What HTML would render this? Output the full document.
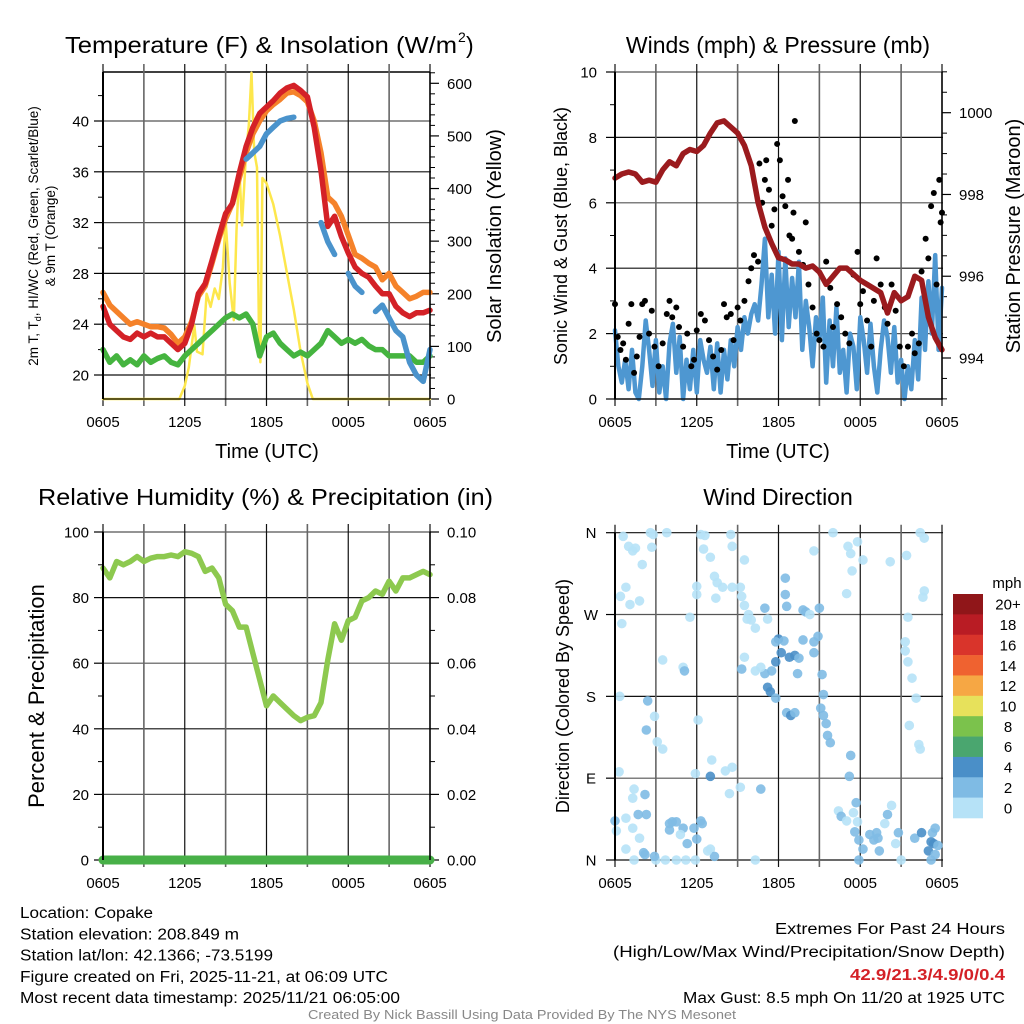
<!DOCTYPE html>
<html><head><meta charset="utf-8"><style>
html,body{margin:0;padding:0;background:#fff;}
svg{display:block;font-family:"Liberation Sans",sans-serif;}
</style></head><body>
<svg id="c" width="1024" height="1024" viewBox="0 0 1024 1024"></svg>
<script>
// ---------- DATA ----------
const xTickLabels = ["0605","1205","1805","0005","0605"];
// temperature panel (half-hour steps from 0605)
const temp2m = [25.4,24,23.5,23,22.8,23.3,23,23.3,23,23,22.5,22,22.5,24,26.4,27.2,29,30.9,32.7,33.5,35.9,38,39.5,40.6,41.1,41.6,42.2,42.6,42.8,42.4,41.9,39.5,36.1,31.7,32.5,30.9,29.6,28.5,28,27.7,27,26.4,26.4,25.4,24.9,24.6,24.9,24.9,25.1];
const temp9m = [26.5,25.5,25,24.5,24,24.2,24,23.8,23.8,23.7,23.2,22.5,23,24.2,26.2,27,28.8,30.7,32.3,33.5,35.5,37.5,39,40,40.8,41.3,41.7,42.2,42.3,42,41.5,40,37.5,34,33.5,32.5,31,29.5,29.2,28.8,28.5,27.5,28,27,26.5,26,26.2,26.5,26.5];
const dewPt = [22,21,21.5,20.8,21.2,20.8,21.5,21,21.3,21.5,21,20.8,21.5,22,22.5,23,23.5,24,24.5,24.8,24.5,24.8,24,21.5,23,23.3,22.5,22,21.5,21.8,21.5,22,22.5,23.5,23,22.5,22.8,22.5,22.8,22.3,22,22,21.5,21.5,21.5,21.5,21,21,21.5];
const heatWC = [null,null,null,null,null,20.3,null,null,20.5,null,null,null,null,null,null,null,null,null,null,null,null,37,37.5,38,39,39.5,40,40.2,40.3,null,null,null,32,30.5,29.5,null,28,27,26.5,null,25,25.5,24.5,23.5,23,21,20,19.5,22];
const solarTime = [0,5.6,6,6.3,6.7,6.9,7.3,7.6,7.9,8.2,8.5,8.8,9,9.3,9.6,9.8,10,10.2,10.5,10.7,10.9,11.1,11.3,11.45,11.55,11.7,12,12.5,13,13.5,14,14.5,15,15.4,24];
const solarVal = [0,0,25,60,140,90,85,200,175,210,190,250,340,220,150,320,440,330,470,520,620,470,440,120,70,420,410,370,310,240,170,90,30,0,0];
// winds panel
const windSonic = [2.1,1.0,0.5,1.2,0.3,1.5,0.2,0.0,1.0,2.4,1.5,0.4,1.8,0.2,1.0,0.0,1.7,2.3,0.8,1.9,0.0,1.2,0.3,1.5,0.2,
1.8,1.2,0.8,1.6,0.3,1.7,0.2,1.5,0.6,1.8,1.0,2.2,1.5,2.5,2.0,2.6,2.9,2.4,3.5,4.9,2.5,3.8,2.0,4.5,
1.8,4.3,2.2,3.7,2.5,4.2,1.5,3.0,2.2,1.0,2.5,1.8,3.1,0.5,2.4,1.0,2.8,0.8,1.5,0.2,2.0,1.6,0.3,2.5,
1.8,0.8,2.3,1.0,0.2,1.5,2.4,1.9,0.8,2.2,0.5,1.2,0.0,1.0,0.3,1.8,0.6,3.1,1.5,3.6,2.0,4.4,1.5,3.4];
const gustTime = [0,0.2,0.4,0.6,0.8,1.0,1.2,1.4,1.6,1.8,2.0,2.2,2.5,2.7,2.9,3.2,3.5,3.8,4.0,4.2,4.5,4.7,5.0,5.3,5.6,5.8,6.0,6.3,6.6,6.9,7.2,7.5,7.8,8.0,8.2,8.5,8.7,9.0,9.2,9.5,9.8,10.0,10.2,10.5,10.6,10.8,11.0,11.1,11.3,11.5,11.7,11.9,12.1,12.3,12.5,12.7,12.8,13.0,13.1,13.2,13.5,13.8,14.0,14.2,14.5,14.8,15.0,15.3,15.5,15.8,16.0,16.3,16.6,16.9,17.2,17.5,17.8,18.0,18.2,18.5,18.8,19.0,19.2,19.5,19.8,20.0,20.3,20.6,20.9,21.2,21.5,21.8,22.0,22.3,22.5,22.8,23.0,23.2,23.4,23.6,23.8,23.9,24];
const gustVal = [2.9,1.9,1.5,1.7,1.2,2.3,2.9,0.8,1.3,1.9,2.9,3.0,2.0,2.7,1.6,1.0,1.7,2.6,3.0,2.5,2.8,2.2,1.6,2.0,1.0,1.2,2.1,2.6,2.4,1.8,1.3,0.9,1.5,2.9,2.5,2.6,1.8,2.8,2.4,3.0,3.6,4.0,4.4,4.2,7.2,6.0,6.7,7.3,6.4,5.3,5.8,7.8,7.3,6.2,5.9,6.7,5.0,4.9,5.7,8.5,4.5,4.1,5.4,3.5,2.8,2.0,1.8,1.6,4.2,3.4,2.2,2.9,2.5,2.0,1.7,3.8,4.5,2.9,3.3,2.4,1.6,3.0,4.3,3.5,2.8,2.3,3.5,2.7,1.6,1.0,1.6,2.0,1.4,1.7,3.9,4.9,4.3,5.9,6.3,3.5,6.7,5.4,5.7];
const pressure = [998.4,998.5,998.55,998.5,998.3,998.35,998.3,998.6,998.8,998.7,999.0,999.1,999.05,999.2,999.5,999.75,999.8,999.65,999.5,999.2,998.7,997.8,997.2,996.8,996.45,996.4,996.3,996.3,996.2,996.25,996.1,995.8,996.0,996.2,996.2,996.05,995.9,995.8,995.7,995.6,995.1,995.6,995.4,995.5,996.0,995.9,995.0,994.5,994.2];
// humidity panel
const relHum = [89,86,91,90,91,92.5,91,92,92.5,92.5,93,92.5,94,93.5,92.5,88,89,86,78,76,71,71,63,55,47,50,48,46,44,42.5,43.5,44,48,61,72,67,73,74,79,80,82,81,85,82,86,86,87,88,87];
const precip = [0,0,0,0,0,0,0,0,0,0,0,0,0,0,0,0,0,0,0,0,0,0,0,0,0,0,0,0,0,0,0,0,0,0,0,0,0,0,0,0,0,0,0,0,0,0,0,0,0];
// wind direction: [hours since 0605, degrees, speed mph]
const dirObs = [[0.6,356,1],[1.0,345,1],[1.5,343,1],[1.3,340,1],[2.0,325,1],[2.7,344,1],[2.6,360,1.5],[2.8,358,1],[3.8,360,1],[6.3,358,1],[6.6,357,1],[6.5,342,1],[7.0,333,1],[8.5,358,1],[8.6,345,1],[9.5,330,1],[9.2,300,1],[7.3,312,1],[7.5,305,1],[6.0,301,1],[6.0,292,1],[7.9,300,1],[7.4,288,1],[8.6,300,1],[9.3,290,1],[9.5,280,1],[9.8,270,1],[9.7,265,1],[10.0,264,1],[10.3,255,1],[11.2,265,1],[5.5,267,1],[0.4,290,1],[0.5,260,1],[0.8,300,1],[1.8,285,1],[1.1,281,1],[14.6,340,1],[16.0,360,1],[17.1,345,1],[17.3,337,1],[17.8,350,1],[18.2,330,1],[17.4,318,1],[17.0,293,1],[20.2,328,1],[21.4,335,1],[22.4,360,1],[22.7,354,1],[22.7,296,1],[22.6,289,1],[21.5,267,1],[21.3,240,1],[21.3,230,1],[21.5,218,1],[21.8,200,1],[22.1,178,1],[21.6,148,1],[22.3,127,1],[22.4,122,1],
[12.5,310,3],[12.5,292,3],[12.6,279,3.5],[11.0,277,3],[13.8,275,2.5],[14.0,273,3],[14.3,270,1.5],[15.0,277,3],[12.0,243,4.5],[12.2,228,4],[11.8,240,3],[11.5,208,3],[11.0,205,2],[11.8,218,4],[12.4,241,3],[13.2,225,4.5],[13.5,222,2],[12.8,223,4],[13.4,205,3.5],[13.8,242,3],[14.6,240,2.5],[14.9,246,3],[14.6,228,2.5],[15.2,204,3],[15.3,182,3],[15.1,167,2.5],[15.3,159,2.5],[15.5,150,3],[15.6,137,3],[15.8,129,3],[17.3,115,3],[11.2,190,4.5],[11.4,185,4],[11.8,178,3],[12.6,162,3],[12.9,159,4.5],[13.2,162,3],[10.7,212,1],[10.3,208,1],[9.5,223,1],[9.3,210,3],[5.0,212,1],[5.1,208,3],[3.5,220,1],[0.35,180,1],[2.4,175,3],[2.3,143,3],[2.9,158,1],[3.1,130,1],[3.5,122,1],[6.1,154,1],[5.9,95,1],[7.0,92,4],[7.1,110,1],[8.4,73,1],[9.2,80,1],[10.7,78,3],[8.6,102,1],[8.1,98,1],[0.3,97,1],[1.4,78,1],[1.3,68,1],[2.2,72,3],[2.3,50,3],[1.7,50,3],[0.0,43,3],[0.1,32,1],[0.8,46,1],[1.3,35,1],[0.8,12,1],[2.1,8,3],[2.2,6,3],[1.8,24,1],[3.7,0,1],[3.0,0,1],[4.0,40,3],[4.2,42,3],[4.0,33,3],[4.5,42,3],[5.0,35,3],[4.8,28,1],[5.3,18,3],[5.8,35,3],[6.3,43,3],[6.4,40,3],[6.0,23,3],[7.0,12,1],[7.3,4,3],[6.8,10,1],[5.9,0,1],[5.2,0,1],[4.5,0,1],[17.7,63,3],[17.2,92,3],[16.4,54,1],[16.6,48,3],[17.0,43,1],[17.5,52,1],[17.8,42,1],[17.6,31,3],[17.9,22,3],[18.2,12,3],[18.7,28,3],[19.0,22,3],[19.3,24,3],[19.4,10,3],[19.2,30,3],[19.8,40,1],[20.3,60,1],[20.0,50,3],[20.8,30,3],[20.6,18,1],[21.0,0,1],[22.0,24,3],[22.5,30,4],[23.2,20,4],[23.4,18,4],[23.3,30,3],[23.5,35,3],[23.7,16,3],[23.0,10,4],[23.2,0,3],[23.5,6,3],[17.9,0,3],[10.3,0,1],[2.9,4,3],[1.4,0,1]];
const cbLabels = ["20+","18","16","14","12","10","8","6","4","2","0"];
const cbColors = ["#901619","#b91c24","#d9342b","#ef6230","#f6a744","#e7e15b","#7bc24c","#4aa66f","#4a8fc8","#7fbbe4","#b6e2f7"];

// ---------- DRAW ----------
const NS="http://www.w3.org/2000/svg";
const svg=document.getElementById('c');
function mk(tag,attrs,parent,name){const e=document.createElementNS(NS,tag);for(const k in attrs)e.setAttribute(k,attrs[k]);(parent||svg).appendChild(e);


return e;}
function txt(s,x,y,size,opts,name){opts=opts||{};const a={x:x,y:y,'font-size':size,fill:opts.fill||'#000','text-anchor':opts.anchor||'start'};
if(opts.weight)a['font-weight']=opts.weight;if(opts.rot)a.transform='rotate(-90 '+x+' '+y+')';if(opts.len){a.textLength=opts.len;a.lengthAdjust='spacingAndGlyphs';}
const t=mk('text',a,svg,name);t.textContent=s;return t;}

function xScale(x0,x1){return h=>x0+h/24*(x1-x0);}
function lin(d0,d1,p0,p1){return v=>p0+(v-d0)/(d1-d0)*(p1-p0);}

function frame(x0,x1,yTop,yBot,prefix){
  const X=xScale(x0,x1);
  for(let i=0;i<=8;i++){const x=X(i*3);
    mk('line',{x1:x,x2:x,y1:yTop-8,y2:yBot+7,stroke:(i%2==0)?'#111':'#666','stroke-width':(i%2==0)?1.2:1.6},svg,prefix+'-vgrid');}
  xTickLabels.forEach((l,i)=>txt(l,X(i*6),yBot+28,15,{anchor:'middle'},prefix+'-xtick-label'));
  return X;
}
function leftAxis(x,yScale,majors,minors,fmt,prefix,labelX){
  majors.forEach(v=>{const y=yScale(v);
    mk('line',{x1:x-9,x2:x,y1:y,y2:y,stroke:'#000','stroke-width':1.2},svg,prefix+'-ytick');
    txt(fmt(v),labelX,y+5.5,15,{anchor:'end'},prefix+'-ytick-label');});
  minors.forEach(v=>{const y=yScale(v);mk('line',{x1:x-5,x2:x,y1:y,y2:y,stroke:'#000','stroke-width':1},svg,prefix+'-yminor');});
}
function rightAxis(x,yScale,majors,minors,fmt,prefix){
  majors.forEach(v=>{const y=yScale(v);
    mk('line',{x1:x,x2:x+9,y1:y,y2:y,stroke:'#000','stroke-width':1.2},svg,prefix+'-ytick-right');
    txt(fmt(v),x+17,y+5.5,15,{},prefix+'-ytick-right-label');});
  minors.forEach(v=>{const y=yScale(v);mk('line',{x1:x,x2:x+5,y1:y,y2:y,stroke:'#000','stroke-width':1},svg,prefix+'-yminor-right');});
}
function hgrid(x0,x1,ys,prefix){ys.forEach((y,i)=>mk('line',{x1:x0-1,x2:x1+1,y1:y,y2:y,stroke:(i%2==0)?'#111':'#555','stroke-width':1.2},svg,prefix+'-hgrid'));}
function poly(X,Y,times,vals,color,w,name){
  let d='',pen=false;
  for(let i=0;i<vals.length;i++){if(vals[i]===null||vals[i]===undefined){pen=false;continue;}
    const px=X(times[i]),py=Y(vals[i]);d+=(pen?'L':'M')+px.toFixed(1)+' '+py.toFixed(1)+' ';pen=true;}
  return mk('path',{d:d,fill:'none',stroke:color,'stroke-width':w,'stroke-linejoin':'round','stroke-linecap':'round'},svg,name);
}
function steps(n,dt){const a=[];for(let i=0;i<n;i++)a.push(i*dt);return a;}
function range(a,b,s){const r=[];for(let v=a;v<=b+1e-9;v+=s)r.push(+v.toFixed(4));return r;}

// ===== Panel 1: temperature =====
(function(){
  const x0=103,x1=430,yT=72,yB=399;
  const Y=lin(20,40,375,121), Ys=lin(0,600,399,83.3);
  txt("Temperature (F) & Insolation (W/m",65,53,23,{len:392},'temperature-title');
  txt("2",458,42,14,{},'temperature-title-superscript');
  txt(")",466,53,23,{},'temperature-title-paren');
  hgrid(x0,x1,[20,24,28,32,36,40].map(Y),'temp');
  mk('line',{x1:x0,x2:x1,y1:yT,y2:yT,stroke:'#000','stroke-width':1.5},svg,'temp-top-border');
  const X=frame(x0,x1,yT,yB,'temp');
  leftAxis(x0,Y,[20,24,28,32,36,40],range(22,42,4),v=>v,'temp',89);
  rightAxis(x1,Ys,range(0,600,100),range(20,620,20).filter(v=>v%100),v=>v,'solar');
  const T=steps(49,0.5);
  poly(X,Ys,solarTime,solarVal,'#fde74c',2.5,'solar-insolation-line');
  poly(X,Y,T,dewPt,'#45b43f',5.5,'dewpoint-line');
  poly(X,Y,T,temp9m,'#f5822a',5.5,'temp-9m-line');
  poly(X,Y,T,temp2m,'#d42127',5.5,'temp-2m-line');
  poly(X,Y,T,heatWC,'#4a93cc',5.5,'heat-index-windchill-line');
  mk('line',{x1:x0,x2:x0,y1:yT,y2:yB,stroke:'#000','stroke-width':2},svg,'temp-left-axis');
  mk('line',{x1:x1,x2:x1,y1:yT,y2:yB,stroke:'#000','stroke-width':1.5},svg,'temp-right-axis');
  mk('line',{x1:x0,x2:x1,y1:yB,y2:yB,stroke:'#000','stroke-width':1.2},svg,'temp-bottom-axis');
  txt("Time (UTC)",267,458,20,{anchor:'middle'},'temp-x-axis-title');
  const t1=mk('text',{x:38,y:236,'font-size':13.5,'text-anchor':'middle',transform:'rotate(-90 38 236)'},svg,'temp-y-axis-title-line1');
  const s1=mk('tspan',{},t1,'temp-y-axis-title-part');s1.textContent="2m T, T";
  const s2=mk('tspan',{'font-size':9,dy:3},t1,'temp-y-axis-title-subscript');s2.textContent="d";
  const s3=mk('tspan',{dy:-3},t1,'temp-y-axis-title-part');s3.textContent=", HI/WC (Red, Green, Scarlet/Blue)";
  txt("& 9m T (Orange)",55,236,13.5,{anchor:'middle',rot:true},'temp-y-axis-title-line2');
  txt("Solar Insolation (Yellow)",501,236,20,{anchor:'middle',rot:true},'solar-axis-title');
})();

// ===== Panel 2: winds =====
(function(){
  const x0=615,x1=942,yT=72,yB=399;
  const Y=lin(0,10,399,72), Yp=lin(994,1000,358,112.7);
  txt("Winds (mph) & Pressure (mb)",778,53,23,{anchor:'middle'},'winds-title');
  hgrid(x0,x1,[0,2,4,6,8,10].map(Y),'wind');
  const X=frame(x0,x1,yT,yB,'wind');
  leftAxis(x0,Y,[0,2,4,6,8,10],[1,3,5,7,9],v=>v,'wind',597);
  rightAxis(x1,Yp,[994,996,998,1000],range(993,1001,0.5).filter(v=>v%2),v=>v,'pressure');
  poly(X,Y,steps(97,0.25),windSonic,'#4e97d1',4.5,'sonic-wind-line');
  gustTime.forEach((t,i)=>{mk('circle',{cx:X(t),cy:Y(gustVal[i]),r:3,fill:'#000'},svg,'gust-point');});
  poly(X,Yp,steps(49,0.5),pressure,'#9b1b1e',5.5,'pressure-line');
  mk('line',{x1:x0,x2:x0,y1:yT,y2:yB,stroke:'#000','stroke-width':2},svg,'wind-left-axis');
  mk('line',{x1:x1,x2:x1,y1:yT,y2:yB,stroke:'#000','stroke-width':1.5},svg,'wind-right-axis');
  mk('line',{x1:x0,x2:x1,y1:yB,y2:yB,stroke:'#000','stroke-width':1.2},svg,'wind-bottom-axis');
  txt("Time (UTC)",778,458,20,{anchor:'middle'},'wind-x-axis-title');
  txt("Sonic Wind & Gust (Blue, Black)",567,236,18,{anchor:'middle',rot:true},'wind-y-axis-title');
  txt("Station Pressure (Maroon)",1020,236,20,{anchor:'middle',rot:true},'pressure-axis-title');
})();

// ===== Panel 3: humidity =====
(function(){
  const x0=103,x1=430,yT=532,yB=860;
  const Y=lin(0,100,860,532), Yr=lin(0,0.1,860,532);
  txt("Relative Humidity (%) & Precipitation (in)",38,505,23,{len:455},'humidity-title');
  hgrid(x0,x1,[0,20,40,60,80,100].map(Y),'rh');
  const X=frame(x0,x1,yT,yB,'rh');
  leftAxis(x0,Y,[0,20,40,60,80,100],[10,30,50,70,90],v=>v,'rh',89);
  rightAxis(x1,Yr,[0,0.02,0.04,0.06,0.08,0.1],range(0.01,0.09,0.02),v=>v.toFixed(2),'precip');
  const T=steps(49,0.5);
  poly(X,Y,T,relHum,'#8dc94f',5.5,'relative-humidity-line');
  poly(X,Yr,T,precip,'#48b048',9,'precipitation-line');
  mk('line',{x1:x0,x2:x0,y1:yT,y2:yB,stroke:'#000','stroke-width':2},svg,'rh-left-axis');
  mk('line',{x1:x1,x2:x1,y1:yT,y2:yB,stroke:'#000','stroke-width':1.5},svg,'rh-right-axis');
  txt("Percent & Precipitation",44,696,22,{anchor:'middle',rot:true},'rh-y-axis-title');
})();

// ===== Panel 4: wind direction =====
(function(){
  const x0=615,x1=942,yT=532.7,yB=860;
  const Y=lin(0,360,860,532.7);
  txt("Wind Direction",778,505,23,{anchor:'middle'},'wind-direction-title');
  const dirs=[0,90,180,270,360], dl=["N","E","S","W","N"];
  hgrid(x0,x1,dirs.map(Y),'dir');
  const X=frame(x0,x1,yT,yB,'dir');
  dirs.forEach((d,i)=>{const y=Y(d);mk('line',{x1:x0-9,x2:x0,y1:y,y2:y,stroke:'#000','stroke-width':1.2},svg,'dir-ytick');
    txt(dl[i],591,y+5.5,15,{anchor:'middle'},'dir-ytick-label');});
  function col(s){const idx=10-Math.min(10,Math.floor(s/2));return cbColors[idx];}
  dirObs.forEach(o=>{mk('circle',{cx:X(o[0]),cy:Y(o[1]),r:4.8,fill:col(o[2]),opacity:0.9},svg,'wind-direction-point');});
  mk('line',{x1:x0,x2:x0,y1:yT,y2:yB,stroke:'#000','stroke-width':2},svg,'dir-left-axis');
  txt("Direction (Colored By Speed)",569,696,18,{anchor:'middle',rot:true},'dir-y-axis-title');
  const cy0=594,bh=(818-594)/cbLabels.length;
  txt("mph",1007,588,15,{anchor:'middle'},'colorbar-title');
  cbLabels.forEach((l,i)=>{mk('rect',{x:953,y:cy0+i*bh,width:30,height:bh+0.3,fill:cbColors[i]},svg,'colorbar-box');
    txt(l,1008,cy0+i*bh+bh/2+5.5,15,{anchor:'middle'},'colorbar-label');});
})();

// ===== footer =====
const leftLines=["Location: Copake","Station elevation: 208.849 m","Station lat/lon: 42.1366; -73.5199","Figure created on Fri, 2025-11-21, at 06:09 UTC","Most recent data timestamp: 2025/11/21 06:05:00"];
const leftLens=[133,219,253,368,380];
leftLines.forEach((s,i)=>txt(s,20,918+i*21.3,15.5,{len:leftLens[i]},'station-info-line'));
txt("Extremes For Past 24 Hours",1005,934,15.5,{anchor:'end',len:230},'extremes-title');
txt("(High/Low/Max Wind/Precipitation/Snow Depth)",1005,957,15.5,{anchor:'end',len:392},'extremes-legend');
txt("42.9/21.3/4.9/0/0.4",1005,980,15.5,{anchor:'end',fill:'#d42127',weight:'bold',len:155},'extremes-values');
txt("Max Gust: 8.5 mph On 11/20 at 1925 UTC",1005,1003,15.5,{anchor:'end',len:322},'max-gust-text');
txt("Created By Nick Bassill Using Data Provided By The NYS Mesonet",308,1019,12.5,{fill:'#888',len:428},'credit-text');
</script>
</body></html>
